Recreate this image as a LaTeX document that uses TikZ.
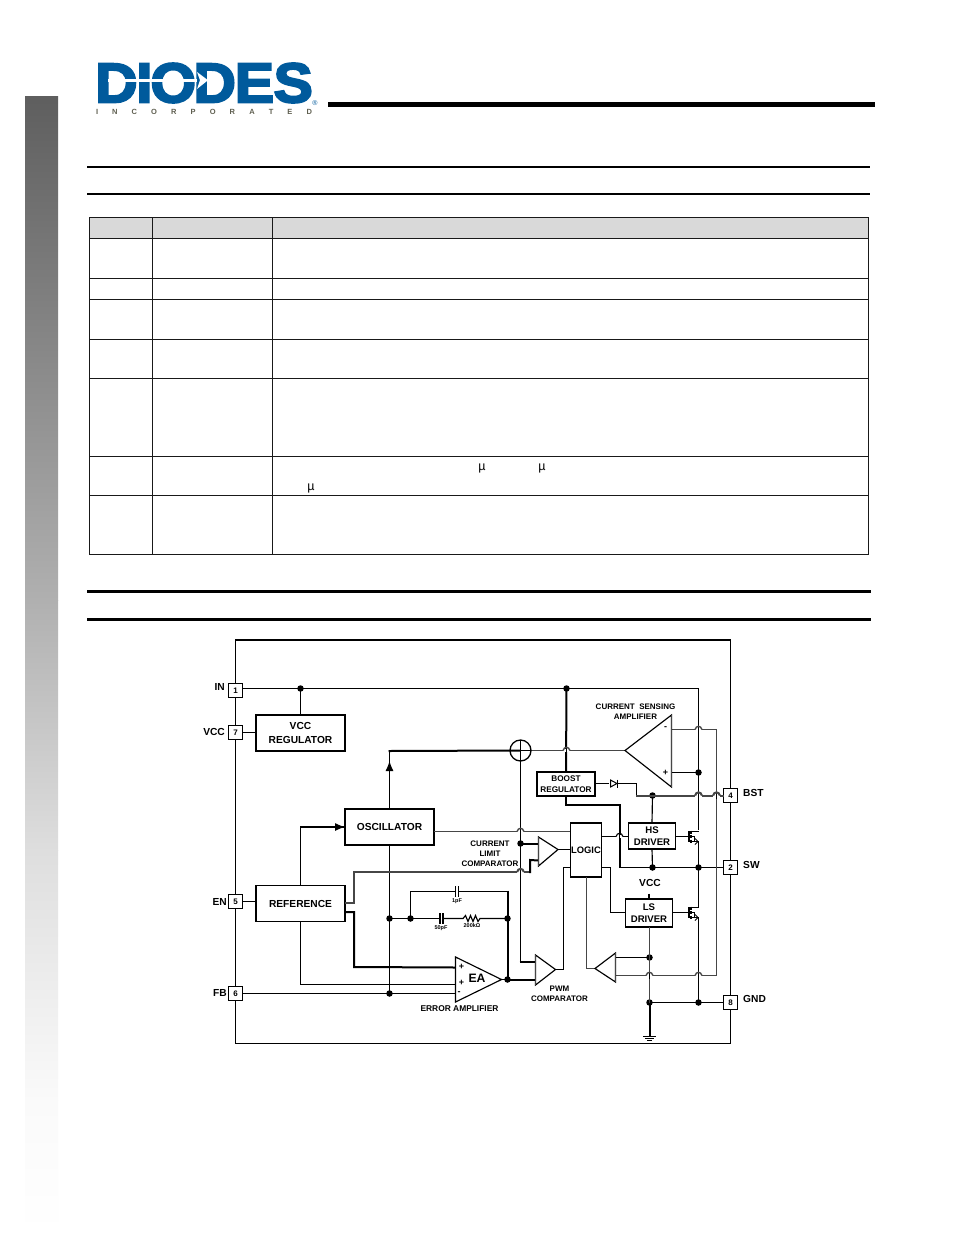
\documentclass[tikz,border=0pt]{standalone}
\usepackage{fontspec}
\setmainfont{Liberation Sans}
\newfontfamily\logofont[FakeBold=3.6]{Liberation Sans}
\usetikzlibrary{arrows.meta}
\definecolor{logoblue}{RGB}{0,90,156}
\definecolor{logogray}{RGB}{95,95,80}
\definecolor{hdrgray}{RGB}{217,217,217}
\definecolor{wiregray}{RGB}{70,70,70}
\newcommand\fs[1]{\fontsize{#1}{#1}\bfseries\selectfont}
\tikzset{
  x=1pt,y=-1pt,
  wire/.style={line width=1.15pt,black},
  thickwire/.style={line width=2pt,black},
  graywire/.style={line width=1.4pt,wiregray},
  graythick/.style={line width=2pt,wiregray},
  blockbox/.style={draw,line width=1.1pt,fill=white,align=center,inner sep=0,outer sep=0,font=\fs{10.2}},
  pinbox/.style={draw,line width=1.1pt,fill=white,minimum size=14pt,inner sep=0,outer sep=0,font=\fs{8}},
  pinlabel/.style={inner sep=0,font=\fs{10.2}},
  tiny/.style={inner sep=0,font=\fs{8},align=center},
  wee/.style={inner sep=0,font=\fs{5.5}},
  jdot/.style={circle,fill=black,inner sep=0,minimum size=6.5pt,outer sep=0},
  amp/.style={line width=1.15pt,fill=white,line join=miter},
  tablerule/.style={line width=.8pt,black!90},
  hrule/.style={line width=2pt,black},
  mu/.style={inner sep=0,font=\fontsize{12.5}{12.5}\selectfont},
}
% hop of a horizontal wire over a vertical one
\newcommand\hop[3][wire]{%
  \fill[white] (#2-3.2,#3-1.2) rectangle (#2+3.2,#3+1.2);
  \draw[wire] (#2,#3-3) -- (#2,#3+3);
  \draw[#1] (#2-3.4,#3) .. controls (#2-2.6,#3-4.2) and (#2+2.6,#3-4.2) .. (#2+3.4,#3);}
% transistor: centre of gate at #1,#2; body rail at #1+6.5
\newcommand\nmosfet[2]{%
  \draw[line width=1.1pt] (#1-3,#2-5.5) -- (#1-3,#2+5.5);
  \draw[line width=1.1pt] (#1-1,#2-6) -- (#1-1,#2-3) (#1-1,#2-1.5) -- (#1-1,#2+1.5) (#1-1,#2+3) -- (#1-1,#2+6);
  \draw[wire] (#1-1,#2-5) -- (#1+6.5,#2-5);
  \draw[wire] (#1-1,#2+5) -- (#1+6.5,#2+5);
  \draw[wire] (#1-1,#2) -- (#1+2.5,#2) -- (#1+2.5,#2+5);
  \draw[line width=.9pt] (#1+3,#2+2) -- (#1+6,#2+5) -- (#1+3,#2+8);}
\newcommand\capv[2]{%
  \fill[white] (#1-1.5,#2-2) rectangle (#1+1.5,#2+2);
  \draw[line width=1.1pt] (#1-1.5,#2-5.5) -- (#1-1.5,#2+5.5) (#1+1.5,#2-5.5) -- (#1+1.5,#2+5.5);}
\begin{document}
\begin{tikzpicture}
\useasboundingbox (0,0) rectangle (954,1235);
\fill[white] (0,0) rectangle (954,1235);

% side bar
\shade[top color=black!63,bottom color=black!31] (25,96) rectangle (58,600);
\shade[top color=black!31,bottom color=black!13] (25,600) rectangle (58,850);
\shade[top color=black!13,bottom color=black!2] (25,850) rectangle (58,1100);
\shade[top color=black!2,bottom color=black!0] (25,1100) rectangle (58,1235);

% logo
\node[inner sep=0,text=logoblue,xscale=1.05,font=\logofont\fontsize{56}{56}\bfseries\selectfont] (logo) at (204,83)
  {D\kern-1.5pt I\kern-2pt O\kern-2.5pt D\kern-1pt E\kern-.5pt S};
\fill[white] (108,79) rectangle (197,81.5);
\fill[white] (197,72) -- (208,80.2) -- (197,89) -- (200,80.2) -- cycle;
\node[inner sep=0,font=\fontsize{7}{7}\selectfont,text=logoblue] (reg) at (315,103.5) {®};
\node[inner sep=0,text=logogray,font=\fs{7.5}] (inc) at (204,111.5)
  {\makebox[216pt][s]{I\hfil N\hfil C\hfil O\hfil R\hfil P\hfil O\hfil R\hfil A\hfil T\hfil E\hfil D}};
\draw[line width=4.6pt] (328,104.5) -- (875,104.5);

% rules
\draw[hrule] (87,167) -- (870,167);
\draw[hrule] (87,194) -- (870,194);
\draw[line width=3pt] (87,591) -- (871,591);
\draw[line width=3pt] (87,619) -- (871,619);

% table
\fill[hdrgray] (89,217) rectangle (868,238);
\draw[tablerule] (89,217) rectangle (868,554);
\foreach \yy in {238,278,299,339,378,456,495} \draw[tablerule] (89,\yy) -- (868,\yy);
\foreach \xx in {152,272} \draw[tablerule] (\xx,217) -- (\xx,554);
\node[mu] (mua) at (482,468) {µ};
\node[mu] (mub) at (542,468) {µ};
\node[mu] (muc) at (311,488) {µ};

% frame
\draw[line width=1.15pt] (235.5,640) -- (235.5,1043.5) -- (730.5,1043.5) -- (730.5,640);
\draw[line width=1.8pt] (235,640) -- (731,640);

% pins
\node[pinbox] (p1) at (235.5,690.5) {1};
\node[pinbox] (p7) at (235.5,732.5) {7};
\node[pinbox] (p5) at (235.5,901.5) {5};
\node[pinbox] (p6) at (235.5,993.5) {6};
\node[pinbox] (p4) at (730.5,795.5) {4};
\node[pinbox] (p2) at (730.5,867.5) {2};
\node[pinbox] (p8) at (730.5,1002.5) {8};
\node[pinlabel,anchor=east] at (225,687) {IN};
\node[pinlabel,anchor=east] at (225,732) {VCC};
\node[pinlabel,anchor=east] at (227,902) {EN};
\node[pinlabel,anchor=east] at (227,993) {FB};
\node[pinlabel,anchor=west] at (743,793) {BST};
\node[pinlabel,anchor=west] at (743,865) {SW};
\node[pinlabel,anchor=west] at (743,999) {GND};

% junctions and turning points
\coordinate (inR) at (698.5,688.5);
\node[jdot] (dVcc) at (300.5,688.5) {};
\node[jdot] (dBoost) at (566.5,688.5) {};
\node[jdot] (dAmpP) at (698.5,772.5) {};
\node[jdot] (dBst) at (652.5,795.5) {};
\node[jdot] (dHsB) at (652.5,867.5) {};
\node[jdot] (dSw) at (698.5,867.5) {};
\node[jdot] (dLim) at (520.5,843.5) {};
\node[jdot] (dOsc) at (389.5,918.5) {};
\node[jdot] (dFb) at (389.5,993.5) {};
\node[jdot] (dFbk) at (410.5,918.5) {};
\node[jdot] (dEaR) at (507.5,918.5) {};
\node[jdot] (dEa) at (507.5,979.5) {};
\node[jdot] (dCmp) at (649.5,957.5) {};
\node[jdot] (dGnd) at (649.5,1002.5) {};
\node[jdot] (dGnd2) at (698.5,1002.5) {};

% blocks
\node[blockbox,minimum width=89pt,minimum height=36pt] (vccreg) at (300.5,733) {VCC\\[3pt]REGULATOR};
\node[blockbox,minimum width=89pt,minimum height=36pt] (osc) at (389.5,827) {OSCILLATOR};
\node[blockbox,minimum width=89pt,minimum height=36pt] (ref) at (300.5,903.5) {REFERENCE};
\node[blockbox,minimum width=58pt,minimum height=24pt,font=\fs{8.2}] (boost) at (566,784) {BOOST\\[2.5pt]REGULATOR};
\node[blockbox,minimum width=31.5pt,minimum height=54pt,font=\fs{9.4}] (logic) at (586,850) {LOGIC};
\node[blockbox,minimum width=47pt,minimum height=26pt,font=\fs{9.6}] (hs) at (652,836) {HS\\[2.5pt]DRIVER};
\node[blockbox,minimum width=47pt,minimum height=28pt,font=\fs{9.6}] (ls) at (649,913) {LS\\[2pt]DRIVER};

% amplifier outlines
\coordinate (ampT) at (671.5,715); \coordinate (ampB) at (671.5,787); \coordinate (ampO) at (625,750.5);
\coordinate (ampM) at (671.5,729.5); \coordinate (ampP) at (671.5,772.5);
\coordinate (clT) at (538.5,837); \coordinate (clB) at (538.5,866); \coordinate (clO) at (558,849.5);
\coordinate (clP) at (538.5,843.5); \coordinate (clM) at (538.5,860.5);
\coordinate (eaT) at (455.5,957); \coordinate (eaB) at (455.5,1002); \coordinate (eaO) at (501.5,979.5);
\coordinate (eaP1) at (455.5,967.5); \coordinate (eaP2) at (455.5,984.5); \coordinate (eaM) at (455.5,993.5);
\coordinate (pwT) at (535.5,955); \coordinate (pwB) at (535.5,985); \coordinate (pwO) at (555.5,969.5);
\coordinate (pwP) at (535.5,961.5); \coordinate (pwM) at (535.5,979.5);
\coordinate (zcT) at (615.5,953); \coordinate (zcB) at (615.5,982); \coordinate (zcO) at (595,968.5);
\coordinate (zcP) at (615.5,957.5); \coordinate (zcM) at (615.5,975.5);
\coordinate (sum) at (520.5,750.5);
\coordinate (gnd) at (649.5,1036);

% wires
\draw[wire] (p1.east |- dVcc) -- (dVcc.center) -- (dBoost.center) -- (inR) -- (698.5,830);
\draw[wire] (dVcc.center) -- (vccreg.north);
\draw[wire] (p7) -- (vccreg.west |- p7);
\draw[wire] (p5) -- (ref.west |- p5);
\draw[wire] (p6) -- (dFb.center) -- (eaM);
\draw[thickwire] (dBoost.center) -- (boost.north);
\draw[thickwire] (boost.south) -- (566,805) -| (619.5,867);
\draw[wire] (619,867.5) -- (dHsB.center) -- (dSw.center) -- (p2);
\draw[wire] (dHsB.center) -- (hs.south);
\draw[wire] (dBst.center) -- (hs.north);
\draw[graywire] (ampO) -- (sum);
\draw[graywire] (ampM) -- (716.5,729.5) -- (716.5,975.5) -- (zcM);
\draw[wire] (ampP) -- (dAmpP.center);
\draw[wire] (boost.east |- 0,783.5) -- (636.5,783.5) -- (636.5,796);
\draw[graythick] (636,795.5) -- (dBst.center) -- (p4.west |- dBst);
\draw[wire] (osc.north) -- (389.5,751);
\draw[thickwire] (388.5,751) -- (sum);
\draw[-{Latex[length=10pt,width=8pt]},wire] (389.5,790) -- (389.5,761);
\draw[wire] (osc.south) -- (dOsc.center) -- (dFb.center);
\draw[wire] (ref.north) |- (osc.west);
\draw[-{Latex[length=10pt,width=8pt]},wire] (325,827) -- (osc.west);
\draw[wire] (ref.south) |- (eaP2);
\draw[thickwire] (345,912) -- (354,912) -- (354,967) -- (eaP1);
\draw[graythick] (345,903) -- (354,903) -- (354,872) -- (530,872);
\draw[thickwire] (530,873) -- (530,860) -- (clM);
\draw[graywire] (osc.east |- 0,831.5) -- (logic.west |- 0,831.5);
\draw[wire] (sum) ++(0,-10.5) -- (520.5,961.5);
\draw[thickwire] (519.5,961.5) -- (pwP);
\draw[thickwire] (dLim.center) -- (clP);
\draw[wire] (clO) -- (logic.west |- clO);
\draw[wire] (dOsc.center) -- (dFbk.center);
\draw[wire] (dFbk.center) -- (dFbk.center |- 0,891.5) -- (455.5,891.5);
\draw[wire] (458.5,891.5) -- (507.5,891.5);
\draw[thickwire] (507.5,890.5) -- (dEaR.center) -- (dEa.center);
\draw[wire] (dFbk.center) -- (440,918.5);
\draw[wire] (443,918.5) -- (463,918.5) -- (465.5,915.5) -- (468,921.5) -- (470.5,915.5) -- (473,921.5) -- (475.5,915.5) -- (478,921.5) -- (480,918.5) -- (dEaR.center);
\draw[wire] (eaO) -- (dEa.center);
\draw[thickwire] (dEa.center) -- (pwM);
\draw[wire] (pwO) -- (563.5,969.5) -- (563.5,867.5) -- (logic.west |- 0,867.5);
\draw[wire] (logic.east |- 0,836.5) -- (hs.west |- 0,836.5);
\draw[wire] (logic.east |- 0,867.5) -- (610.5,867.5) -- (610.5,912.5) -- (ls.west |- 0,912.5);
\draw[graywire] (zcO) -- (586.5,968.5) -- (586.5,877);
\draw[wire] (zcP) -- (dCmp.center);
\draw[line width=1.6pt] (649,893.5) -- (ls.north);
\draw[graywire] (ls.south -| dCmp) -- (dCmp.center) -- (dGnd.center);
\draw[line width=2pt] (dGnd.center) -- (gnd);
\draw[wire] (dGnd.center) -- (dGnd2.center) -- (p8);
\draw[wire] (698.5,842) -- (dSw.center) -- (698.5,907);
\draw[wire] (698.5,917) -- (dGnd2.center);

% ground symbol
\draw[line width=1pt] (643,1036.5) -- (656,1036.5);
\draw[line width=1pt] (645,1038.5) -- (654,1038.5);
\draw[line width=1pt] (647,1040.5) -- (652,1040.5);

% capacitors
\capv{457}{891.5}
\capv{441.5}{918.5}

% diode
\fill[white] (609,778) rectangle (618,789);
\draw[line width=1pt] (610.5,780) -- (610.5,787) -- (617,783.5) -- cycle;
\draw[line width=1.3pt] (617.5,779.5) -- (617.5,787.5);

% amplifiers
\draw[amp] (ampT) -- (ampB) -- (ampO) -- cycle;
\draw[amp] (clT) -- (clB) -- (clO) -- cycle;
\draw[amp] (eaT) -- (eaB) -- (eaO) -- cycle;
\draw[amp] (pwT) -- (pwB) -- (pwO) -- cycle;
\draw[amp] (zcT) -- (zcB) -- (zcO) -- cycle;
\draw[line width=1.8pt,wiregray] (clT) -- (clB);
\draw[line width=1.8pt,wiregray] (pwT) -- (pwB);
\draw[line width=1.8pt,wiregray] (zcT) -- (zcB);
\draw[line width=1.6pt,wiregray] (ampT) -- (ampB);

% sum junction
\draw[line width=1.3pt] (sum) circle[radius=10.5];
\draw[line width=1.15pt] (510,750.5) -- (531,750.5) (520.5,740) -- (520.5,761);

% transistors
\nmosfet{692}{836.5}
\nmosfet{692}{912.5}
\draw[wire] (hs.east |- 0,836.5) -- (689,836.5);
\draw[wire] (ls.east |- 0,912.5) -- (689,912.5);

% hops
\hop[graywire]{566.5}{750.5}
\hop[graywire]{698.5}{729.5}
\hop[graythick]{698.5}{795.5}
\hop[graythick]{716.5}{795.5}
\hop[wire]{619.5}{836.5}
\hop[graywire]{520.5}{831.5}
\hop[graythick]{520.5}{872}
\hop[graywire]{649.5}{975.5}
\hop[graywire]{698.5}{975.5}

% amp signs
\node[inner sep=0,font=\fs{9}] at (665.5,728.5) {-};
\node[inner sep=0,font=\fs{9}] at (665.5,773) {+};
\node[inner sep=0,font=\fs{9}] at (461.5,967) {+};
\node[inner sep=0,font=\fs{9}] at (461.5,983) {+};
\node[inner sep=0,font=\fs{9}] at (459,993) {-};
\node[inner sep=0,font=\fs{12.2}] (ealabel) at (477,978.5) {EA};

% labels
\node[tiny] (lbA) at (635.5,712) {CURRENT\ \ SENSING\\[2pt]AMPLIFIER};
\node[tiny] (lbB) at (490,853.5) {CURRENT\\[2.2pt]LIMIT\\[2.2pt]COMPARATOR};
\node[tiny] (lbC) at (559.5,993.5) {PWM\\[2pt]COMPARATOR};
\node[tiny,font=\fs{8.4}] (lbD) at (459.5,1009) {ERROR AMPLIFIER};
\node[pinlabel] (lbV) at (650,882.5) {VCC};
\node[wee] (c1) at (457,901) {1pF};
\node[wee] (c2) at (441,928) {50pF};
\node[wee] (r1) at (472,925.5) {200kΩ};
\end{tikzpicture}
\end{document}
